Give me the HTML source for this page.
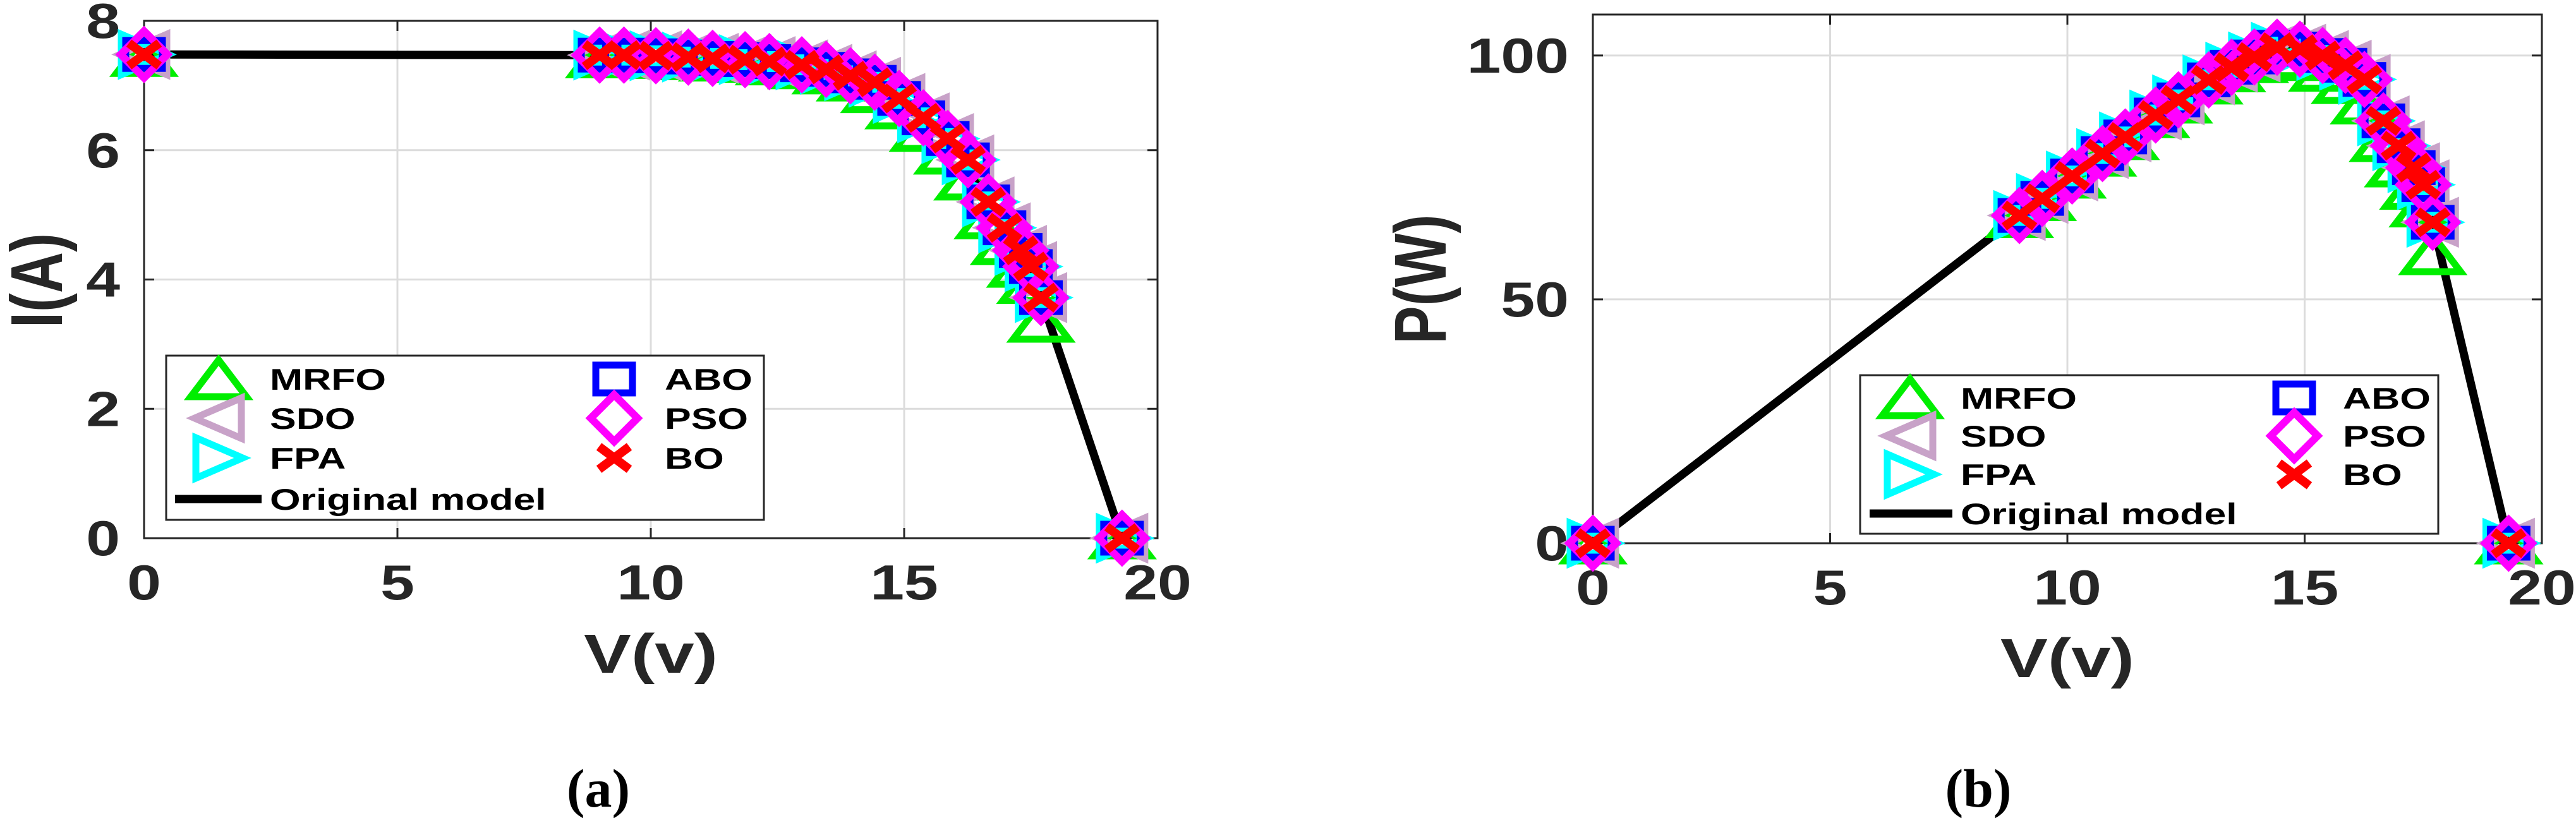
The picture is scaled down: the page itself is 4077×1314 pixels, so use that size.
<!DOCTYPE html>
<html>
<head>
<meta charset="utf-8">
<style>
html,body{margin:0;padding:0;background:#fff;}
svg{display:block;}
text{font-family:"Liberation Sans",sans-serif;font-weight:bold;}
</style>
</head>
<body>
<svg id="fig" width="4077" height="1314" viewBox="0 0 4077 1314" xmlns="http://www.w3.org/2000/svg">
  <rect x="0" y="0" width="4077" height="1314" fill="#fff"/>
  <g id="chartA"></g>
  <g id="chartB"></g>
</svg>
<script>
// ---- data ----
const voltage = [0, 8.99, 9.47, 10.1, 10.74, 11.22, 11.86, 12.34, 12.98, 13.46, 13.94, 14.42, 14.9, 15.38, 15.86, 16.26, 16.66, 16.98, 17.3, 17.5, 17.7, 19.3];
const current = [7.48, 7.47, 7.47, 7.46, 7.44, 7.42, 7.40, 7.37, 7.32, 7.25, 7.15, 7.05, 6.8, 6.5, 6.18, 5.85, 5.2, 4.8, 4.45, 4.2, 3.72, 0];
const power = [0, 67.2, 70.7, 75.3, 79.9, 83.3, 87.8, 90.9, 95.0, 97.6, 99.7, 101.7, 101.3, 100.0, 98.0, 95.1, 86.6, 81.5, 77.0, 73.5, 65.8, 0];
const mrfoCurrent = [7.46, 7.44, 7.44, 7.43, 7.41, 7.39, 7.37, 7.33, 7.27, 7.19, 7.08, 6.9, 6.65, 6.3, 5.95, 5.55, 4.95, 4.55, 4.2, 3.95, 3.35, 0];
const mrfoPower = [0, 66.9, 70.4, 75.0, 79.5, 82.9, 87.4, 90.4, 94.3, 96.8, 98.7, 99.5, 99.1, 96.9, 94.4, 90.2, 82.5, 77.3, 72.7, 69.1, 59.3, 0];
const seriesNames = ["MRFO", "SDO", "FPA", "ABO", "PSO", "BO"];
const xTicks = [0, 5, 10, 15, 20];
const iTicks = [0, 2, 4, 6, 8];
const pTicks = [0, 50, 100];

const NS = "http://www.w3.org/2000/svg";
function mk(parent, tag, attrs, txt) {
  const e = document.createElementNS(NS, tag);
  for (const k in attrs) e.setAttribute(k, attrs[k]);
  if (txt !== undefined) e.textContent = txt;
  parent.appendChild(e);
  return e;
}
function marker(g, type, cx, cy) {
  let e;
  if (type === "MRFO") {
    e = mk(g, "polygon", {points: `${cx},${cy-30} ${cx+44},${cy+28} ${cx-44},${cy+28}`, fill: "none", stroke: "#00ee00", "stroke-width": 11});
  } else if (type === "SDO") {
    e = mk(g, "polygon", {points: `${cx-38},${cy} ${cx+36},${cy-32} ${cx+36},${cy+32}`, fill: "none", stroke: "#c8a2c8", "stroke-width": 11});
  } else if (type === "FPA") {
    e = mk(g, "polygon", {points: `${cx+38},${cy} ${cx-36},${cy-32} ${cx-36},${cy+32}`, fill: "none", stroke: "#00ffff", "stroke-width": 11});
  } else if (type === "ABO") {
    e = mk(g, "rect", {x: cx-29, y: cy-22, width: 58, height: 44, fill: "none", stroke: "#0000ff", "stroke-width": 11});
  } else if (type === "PSO") {
    e = mk(g, "polygon", {points: `${cx},${cy-37} ${cx+37},${cy} ${cx},${cy+37} ${cx-37},${cy}`, fill: "none", stroke: "#ff00ff", "stroke-width": 12});
  } else {
    e = mk(g, "path", {d: `M${cx-24},${cy-18}L${cx+24},${cy+18}M${cx-24},${cy+18}L${cx+24},${cy-18}`, fill: "none", stroke: "#ff0000", "stroke-width": 14});
  }
  return e;
}
function stext(g, x, y, s, size, anchor, sx, color) {
  return mk(g, "text", {transform: `translate(${x},${y}) scale(${sx},1)`, "font-size": size, "text-anchor": anchor, fill: color || "#262626"}, s);
}

function drawChart(cfg) {
  const g = document.getElementById(cfg.id);
  const {L, R, T, B, yMax} = cfg;
  const xs = v => L + (v / 20) * (R - L);
  const ys = v => B - (v / yMax) * (B - T);
  xTicks.slice(1, -1).forEach(t => {
    const gl = mk(g, "line", {x1: xs(t), x2: xs(t), y1: T, y2: B, stroke: "#dcdcdc", "stroke-width": 3});
    
    
  });
  cfg.yTicks.forEach(t => {
    if (t === 0 || ys(t) <= T + 2) return;
    const gl = mk(g, "line", {x1: L, x2: R, y1: ys(t), y2: ys(t), stroke: "#dcdcdc", "stroke-width": 3});
    
    
  });
  const box = mk(g, "rect", {x: L, y: T, width: R - L, height: B - T, fill: "none", stroke: "#262626", "stroke-width": 3});
  
  
  xTicks.forEach(t => {
    mk(g, "line", {x1: xs(t), x2: xs(t), y1: B, y2: B - 16, stroke: "#262626", "stroke-width": 3});
    mk(g, "line", {x1: xs(t), x2: xs(t), y1: T, y2: T + 16, stroke: "#262626", "stroke-width": 3});
    const tl = stext(g, xs(t), B + 97, String(t), 78, "middle", 1.24);
    
    
  });
  cfg.yTicks.forEach(t => {
    mk(g, "line", {x1: L, x2: L + 16, y1: ys(t), y2: ys(t), stroke: "#262626", "stroke-width": 3});
    mk(g, "line", {x1: R, x2: R - 16, y1: ys(t), y2: ys(t), stroke: "#262626", "stroke-width": 3});
    const tl = stext(g, L - 38, ys(t) + 27, String(t), 78, "end", 1.24);
    
    
  });
  const xt = stext(g, xs(10), cfg.xTitleY, "V(v)", 87, "middle", 1.29);
  
  
  const yt = mk(g, "text", {transform: `translate(${cfg.yTitleX},${cfg.yTitleY}) scale(1.29,1) rotate(-90)`, "font-size": 90, "text-anchor": "middle", fill: "#262626"}, cfg.yTitle);
  
  
  const d = voltage.map((v, i) => (i ? "L" : "M") + xs(v).toFixed(1) + "," + ys(cfg.yVals[i]).toFixed(1)).join("");
  const ln = mk(g, "path", {d: d, fill: "none", stroke: "#000", "stroke-width": 13, "stroke-linejoin": "round"});
  
  
  seriesNames.forEach(name => {
    const sg = mk(g, "g", {});
    
    
    const vals = name === "MRFO" ? cfg.mrfoVals : cfg.yVals;
    voltage.forEach((v, i) => {
      const m = marker(sg, name, xs(v), ys(vals[i]));
      
      
    });
  });
  const lg = mk(g, "g", {});
  
  
  const Lg = cfg.leg;
  mk(lg, "rect", {x: Lg.x, y: Lg.y, width: Lg.w, height: Lg.h, fill: "#fff", stroke: "#262626", "stroke-width": 3});
  const rowsY = Lg.rows;
  const left = ["MRFO", "SDO", "FPA"], right = ["ABO", "PSO", "BO"];
  left.forEach((n, i) => {
    const e = mk(lg, "g", {});
    
    
    marker(e, n, Lg.mx1, rowsY[i]);
    stext(e, Lg.tx1, rowsY[i] + 17, n, 47, "start", 1.33, "#000");
  });
  right.forEach((n, i) => {
    const e = mk(lg, "g", {});
    
    
    marker(e, n, Lg.mx2, rowsY[i]);
    stext(e, Lg.tx2, rowsY[i] + 17, n, 47, "start", 1.33, "#000");
  });
  const oe = mk(lg, "g", {});
  
  
  mk(oe, "line", {x1: Lg.lx1, x2: Lg.lx2, y1: rowsY[3], y2: rowsY[3], stroke: "#000", "stroke-width": 13});
  stext(oe, Lg.tx1, rowsY[3] + 17, "Original model", 47, "start", 1.33, "#000");
  const cap = mk(g, "text", {transform: `translate(${cfg.capX},1277)`, "font-size": 86, "text-anchor": "middle", fill: "#000", style: "font-family:'Liberation Serif',serif;font-weight:bold"}, cfg.caption);
  
  
}

drawChart({id: "chartA", L: 228, R: 1832, T: 33, B: 852, yMax: 8, yTicks: iTicks, yVals: current, mrfoVals: mrfoCurrent,
  yTitle: "I(A)", yTitleX: 98, yTitleY: 444, xTitleY: 1065, caption: "(a)", capX: 947,
  leg: {x: 263, y: 563, w: 946, h: 260, rows: [600, 662, 725, 790], mx1: 346, tx1: 427, mx2: 972, tx2: 1052, lx1: 277, lx2: 414}});
drawChart({id: "chartB", L: 2521, R: 4023, T: 23, B: 860, yMax: 108.4, yTicks: pTicks, yVals: power, mrfoVals: mrfoPower,
  yTitle: "P(W)", yTitleX: 2288, yTitleY: 442, xTitleY: 1072, caption: "(b)", capX: 3131,
  leg: {x: 2944, y: 594, w: 915, h: 251, rows: [630, 690, 751, 813], mx1: 3023, tx1: 3103, mx2: 3631, tx2: 3708, lx1: 2959, lx2: 3090}});
</script>
</body>
</html>
